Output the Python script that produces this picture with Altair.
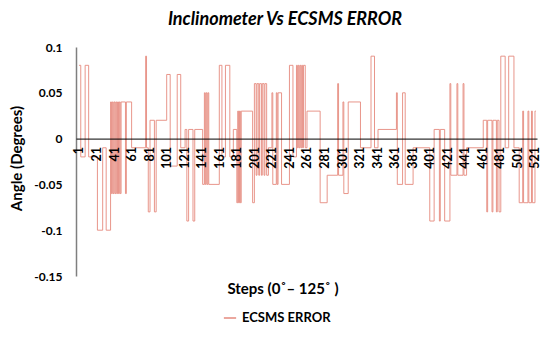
import altair as alt
import pandas as pd

# Step index where each constant run of the error starts, and its value (degrees)
STEP_STARTS = [1, 3, 8, 12, 22, 28, 32, 37, 38, 39, 40, 41, 42, 43, 44, 45, 46, 47, 48, 49,
               54, 55, 61, 77, 78, 80, 82, 87, 89, 101, 105, 113, 117, 122, 124, 126, 131,
               133, 142, 144, 145, 146, 147, 148, 149, 161, 164, 168, 173, 177, 181, 182,
               183, 184, 185, 186, 199, 201, 203, 204, 206, 207, 209, 210, 212, 213, 215,
               217, 221, 222, 226, 227, 228, 232, 241, 245, 249, 250, 251, 252, 253, 254,
               255, 256, 257, 259, 261, 276, 284, 296, 297, 302, 303, 308, 322, 334, 338,
               342, 363, 364, 370, 373, 382, 401, 406, 412, 413, 418, 424, 425, 432, 433,
               439, 440, 443, 462, 466, 467, 472, 473, 477, 478, 480, 482, 487, 491, 497,
               503, 507, 508, 513, 514, 517, 518, 521]
ERROR_VALUES = [0.08, -0.02, 0.08, -0.02, -0.10, -0.01, -0.10, 0.04, -0.06, 0.04, -0.06,
                0.04, -0.06, 0.04, -0.06, 0.04, -0.06, 0.04, -0.06, 0.04,
                -0.06, 0.04, -0.01, 0.09, -0.01, -0.08, 0.02, -0.08, 0.02, 0.07, -0.03, 0.07,
                -0.01, 0.01, -0.09, 0.01, -0.09,
                0.01, -0.05, 0.05, -0.05, 0.05, -0.05, 0.05, -0.05, 0.08, -0.02, 0.08, -0.02,
                0.01, -0.07, 0.03,
                -0.07, 0.03, -0.07, 0.03, -0.07, 0.06, -0.04, 0.06, -0.04, 0.06, -0.04, 0.06,
                -0.04, 0.06, -0.04,
                -0.01, 0.05, -0.05, 0.05, -0.05, 0.05, -0.05, 0.08, -0.02, 0.08, -0.01, 0.08,
                -0.01, 0.08, -0.01,
                0.08, -0.01, 0.08, -0.01, 0.03, -0.07, -0.04, 0.06, -0.04, 0.04, -0.06, 0.04,
                -0.01, 0.09, -0.01,
                0.01, 0.05, -0.05, 0.05, -0.05, -0.01, -0.09, 0.01, -0.09, 0.01, -0.09, 0.06,
                -0.04, 0.06, -0.04,
                0.06, -0.04, -0.01, 0.02, -0.08, 0.02, -0.08, 0.02, -0.08, 0.02, -0.08, 0.09,
                -0.01, 0.09, -0.01,
                -0.07, 0.03, -0.07, 0.03, -0.07, 0.03, -0.07, 0.03]
LAST_STEP = 522
SERIES = "ECSMS ERROR"
Y_TICKS = [-0.15, -0.1, -0.05, 0, 0.05, 0.1]
X_TICKS = list(range(1, 522, 20))
TITLE = "Inclinometer Vs ECSMS ERROR"
X_TITLE = "Steps (0˚– 125˚ )"
Y_TITLE = "Angle (Degrees)"

FONT = "Lato"

df = pd.DataFrame({
    "step": STEP_STARTS + [LAST_STEP],
    "error": ERROR_VALUES + [ERROR_VALUES[-1]],
    "series": SERIES,
})

line = alt.Chart(df).mark_line(interpolate="step-after", strokeWidth=0.9, clip=True).encode(
    x=alt.X("step:Q",
            scale=alt.Scale(domain=[-2.42, 523.3], nice=False, zero=False),
            axis=alt.Axis(values=X_TICKS, title=None, labelAngle=270, labelFont=FONT,
                          labelFontSize=12.5, labelFontWeight="bold", labelColor="black",
                          ticks=False, domainColor="black", domainWidth=1, offset=-137.4,
                          labelPadding=8, grid=False, labelOverlap=False, labelFlush=False,
                          zindex=1)),
    y=alt.Y("error:Q",
            scale=alt.Scale(domain=[-0.15, 0.1], nice=False, zero=False),
            axis=alt.Axis(values=Y_TICKS, labelExpr="'' + datum.value", title=Y_TITLE,
                          titleFont=FONT, titleFontSize=15, titleFontWeight="bold",
                          titleColor="black", titleX=-52, titleY=111,
                          labelFont=FONT, labelFontSize=12, labelFontWeight="bold",
                          labelColor="black", ticks=False, domainColor="#7f7f7f",
                          domainWidth=1.5, labelPadding=14, grid=False)),
    color=alt.Color("series:N", scale=alt.Scale(range=["#E58A7E"]),
                    legend=alt.Legend(orient="none", legendX=147, legendY=264, title=None,
                                      symbolType="stroke", symbolSize=150,
                                      symbolStrokeWidth=1.5, labelFont=FONT,
                                      labelFontSize=13, labelFontWeight="bold",
                                      labelColor="black", labelOffset=5, padding=0)),
)

xtitle = alt.Chart(alt.Data(values=[{"t": X_TITLE}])).mark_text(
    font=FONT, fontSize=15, fontWeight="bold", color="black", align="center", baseline="middle"
).encode(text="t:N", x=alt.value(207), y=alt.value(242))

title = alt.Chart(alt.Data(values=[{"t": TITLE}])).mark_text(
    font=FONT, fontSize=18, fontWeight="bold", fontStyle="italic", color="black",
    align="center", baseline="alphabetic"
).encode(text="t:N", x=alt.value(209), y=alt.value(-22))

chart = alt.layer(line, xtitle, title).properties(
    width=461, height=229,
    autosize=alt.AutoSizeParams(type="none"),
    padding={"left": 68, "top": 39, "right": 5, "bottom": 50},
).configure_view(stroke=None)

chart.save("out.html", embed_options={"renderer": "svg", "actions": False})
